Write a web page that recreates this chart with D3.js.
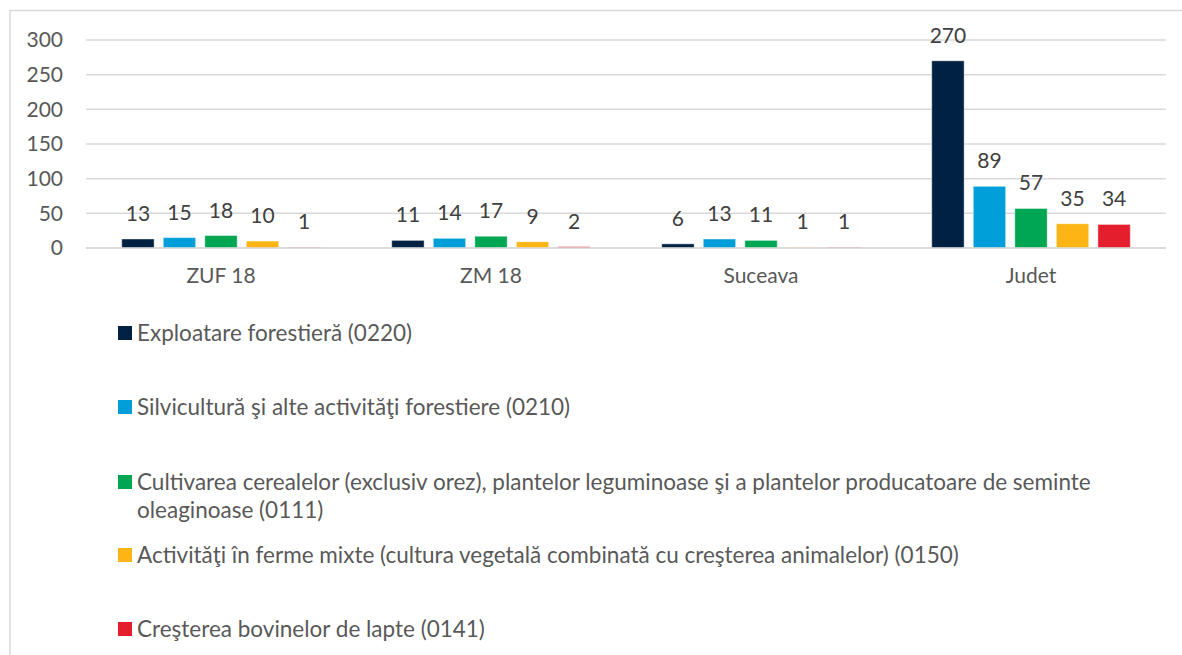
<!DOCTYPE html>
<html>
<head>
<meta charset="utf-8">
<script src="https://cdn.jsdelivr.net/npm/d3@7"></script>
<style>
  html, body { margin: 0; padding: 0; background: #fff; }
  svg { display: block; font-family: Lato, "Open Sans", sans-serif; }
</style>
</head>
<body>
<svg id="chart" width="1182" height="655"></svg>
<script>
const categories = ["ZUF 18", "ZM 18", "Suceava", "Judet"];
const seriesNames = [
  "Exploatare forestieră (0220)",
  "Silvicultură şi alte activităţi forestiere (0210)",
  "Cultivarea cerealelor (exclusiv orez), plantelor leguminoase şi a plantelor producatoare de seminte oleaginoase (0111)",
  "Activităţi în ferme mixte (cultura vegetală combinată cu creşterea animalelor) (0150)",
  "Creşterea bovinelor de lapte (0141)"
];
const seriesColors = ["#002142", "#009FDA", "#00A651", "#FDB515", "#E41E2D"];
const exploatare = [13, 11, 6, 270];
const silvicultura = [15, 14, 13, 89];
const cultivarea = [18, 17, 11, 57];
const activitati = [10, 9, 1, 35];
const cresterea = [1, 2, 1, 34];
const seriesValues = [exploatare, silvicultura, cultivarea, activitati, cresterea];
const yTicks = [0, 50, 100, 150, 200, 250, 300];

const FONT = "Lato, 'Open Sans', sans-serif";
const svg = d3.select("#chart");

// outer chart border
svg.append("rect")
  .attr("x", 10).attr("y", 10.5)
  .attr("width", 1190).attr("height", 700)
  .attr("fill", "none").attr("stroke", "#d9d9d9").attr("stroke-width", 1.5);

const plot = { left: 86, right: 1166, top: 40, bottom: 248 };

const y = d3.scaleLinear().domain([0, 300]).range([plot.bottom, plot.top]);
const x0 = d3.scaleBand().domain(categories).range([plot.left, plot.right]).padding(0);
const x1 = d3.scaleBand().domain(d3.range(seriesNames.length))
  .range([0, x0.bandwidth()]).paddingInner(0.22).paddingOuter(0.86);

// gridlines
svg.append("g").selectAll("line").data(yTicks).join("line")
  .attr("x1", plot.left).attr("x2", plot.right)
  .attr("y1", d => y(d)).attr("y2", d => y(d))
  .attr("stroke", "#d9d9d9").attr("stroke-width", 1.5);

// y axis labels
const yAxis = d3.axisLeft(y).tickValues(yTicks).tickSize(0).tickPadding(0);
const yg = svg.append("g").attr("transform", `translate(63,0)`).call(yAxis);
yg.select(".domain").remove();
yg.selectAll("text").attr("font-size", 21).attr("fill", "#595959")
  .attr("font-family", FONT);

// x axis labels
const xAxis = d3.axisBottom(x0).tickSize(0).tickPadding(0);
const xg = svg.append("g").attr("transform", `translate(0,268)`).call(xAxis);
xg.select(".domain").remove();
xg.selectAll("text").attr("font-size", 21).attr("fill", "#595959")
  .attr("font-family", FONT);

// bars
const rows = [];
categories.forEach((c, ci) => {
  seriesValues.forEach((vals, si) => {
    rows.push({ c, si, v: vals[ci] });
  });
});

const bars = svg.append("g");
bars.selectAll("rect").data(rows).join("rect")
  .attr("x", d => x0(d.c) + x1(d.si))
  .attr("y", d => y(d.v))
  .attr("width", x1.bandwidth())
  .attr("height", d => y(0) - y(d.v))
  .attr("fill", d => seriesColors[d.si])
  .attr("stroke", "#ffffff").attr("stroke-opacity", 0.45).attr("stroke-width", 1);

// baseline drawn over bars
svg.append("line")
  .attr("x1", plot.left).attr("x2", plot.right)
  .attr("y1", y(0)).attr("y2", y(0))
  .attr("stroke", "#d9d9d9").attr("stroke-width", 1.5);

// value labels
svg.append("g").selectAll("text").data(rows).join("text")
  .attr("x", d => x0(d.c) + x1(d.si) + x1.bandwidth() / 2)
  .attr("y", d => y(d.v) - 18)
  .attr("text-anchor", "middle")
  .attr("font-size", 21)
  .attr("fill", "#404040")
  .text(d => d.v);

// legend
const legendY = [333, 407, 482, 555, 629];
const legend = svg.append("g");
const maxW = 1000;
seriesNames.forEach((name, i) => {
  const g = legend.append("g").attr("transform", `translate(0,${legendY[i]})`);
  g.append("rect").attr("x", 118).attr("y", -7).attr("width", 14).attr("height", 14)
    .attr("fill", seriesColors[i]);
  const t = g.append("text").attr("x", 137).attr("y", 0)
    .attr("font-size", 22.5).attr("fill", "#595959");
  const words = name.split(" ");
  let line = [];
  let tspan = t.append("tspan").attr("x", 137).attr("dy", "0.35em");
  words.forEach(w => {
    line.push(w);
    tspan.text(line.join(" "));
    if (tspan.node().getComputedTextLength() > maxW && line.length > 1) {
      line.pop();
      tspan.text(line.join(" "));
      line = [w];
      tspan = t.append("tspan").attr("x", 137).attr("dy", 28).text(w);
    }
  });
});
</script>
</body>
</html>
